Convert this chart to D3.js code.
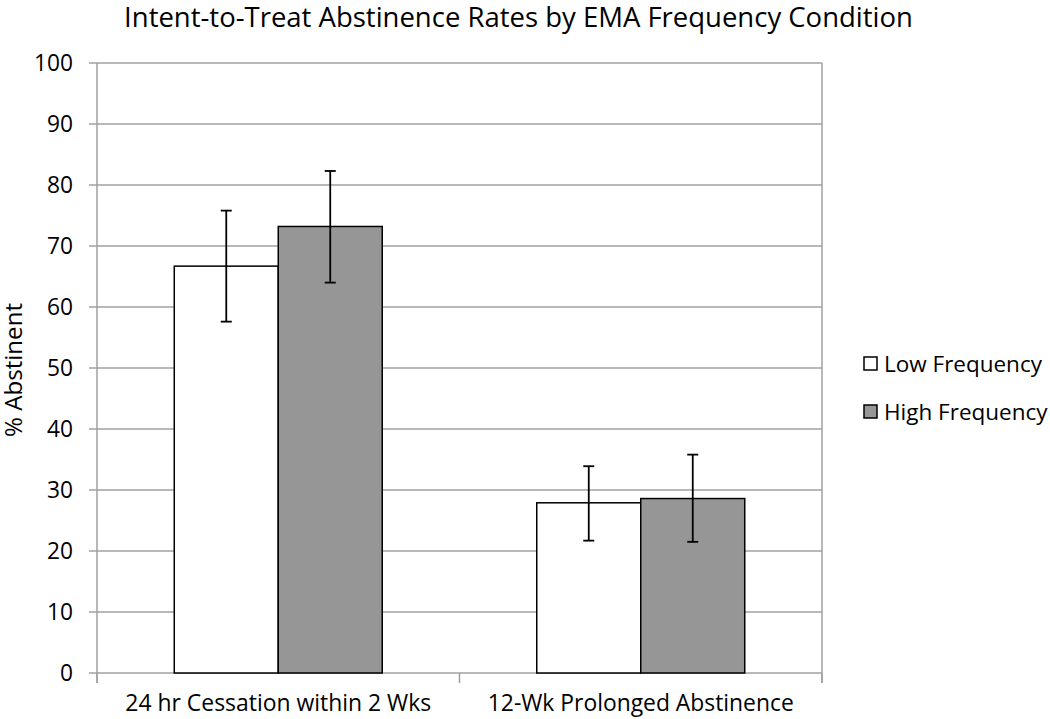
<!DOCTYPE html>
<html>
<head>
<meta charset="utf-8">
<script src="https://cdn.jsdelivr.net/npm/d3@7"></script>
<style>
  html, body { margin: 0; padding: 0; background: #fff; }
  text { font-family: "Open Sans", "Noto Sans", sans-serif; fill: #000; }
</style>
</head>
<body>
<svg id="chart" width="1050" height="719"></svg>
<script>
const title = "Intent-to-Treat Abstinence Rates by EMA Frequency Condition";
const categories = ["24 hr Cessation within 2 Wks", "12-Wk Prolonged Abstinence"];
const seriesNames = ["Low Frequency", "High Frequency"];
const lowValues = [66.7, 27.9];
const highValues = [73.2, 28.6];
const lowErrTop = [75.8, 33.9];
const lowErrBottom = [57.6, 21.7];
const highErrTop = [82.3, 35.8];
const highErrBottom = [64.0, 21.5];
const yTicks = [0, 10, 20, 30, 40, 50, 60, 70, 80, 90, 100];
const yTitle = "% Abstinent";

const colors = ["#ffffff", "#969696"];
const svg = d3.select("#chart");
const margin = { left: 97, right: 822, top: 63, bottom: 673 };

const x0 = d3.scaleBand().domain(categories).range([margin.left, margin.right]).paddingInner(0).paddingOuter(0);
const x1 = d3.scaleBand().domain(seriesNames).range([0, x0.bandwidth()]).paddingInner(0).paddingOuter(0.743);
const y = d3.scaleLinear().domain([0, 100]).range([margin.bottom, margin.top]);

const grid = "#a0a0a0";

// shrink/grow font so a text's natural width matches the reference
function fit(sel, target) {
  sel.each(function () {
    const el = d3.select(this);
    const fs = parseFloat(el.attr("font-size"));
    const w = this.getComputedTextLength();
    if (w > 0) el.attr("font-size", (fs * target / w).toFixed(2));
  });
}

// gridlines
svg.append("g").selectAll("line").data(yTicks).join("line")
  .attr("x1", margin.left - 8).attr("x2", margin.right)
  .attr("y1", d => y(d)).attr("y2", d => y(d))
  .attr("stroke", grid).attr("stroke-width", 1.5);

// right border
svg.append("line").attr("x1", margin.right).attr("x2", margin.right)
  .attr("y1", margin.top).attr("y2", margin.bottom + 10)
  .attr("stroke", grid).attr("stroke-width", 1.5);

// y axis line
svg.append("line").attr("x1", margin.left).attr("x2", margin.left)
  .attr("y1", margin.top).attr("y2", margin.bottom + 10)
  .attr("stroke", grid).attr("stroke-width", 1.5);

// x axis category ticks
const bounds = [margin.left, x0(categories[1]), margin.right];
svg.append("g").selectAll("line").data(bounds).join("line")
  .attr("x1", d => d).attr("x2", d => d)
  .attr("y1", margin.bottom).attr("y2", margin.bottom + 10)
  .attr("stroke", grid).attr("stroke-width", 1.5);

// y tick labels
const yl = svg.append("g").selectAll("text").data(yTicks).join("text")
  .attr("x", 73).attr("y", d => y(d)).attr("dy", "0.36em")
  .attr("text-anchor", "end").attr("font-size", 20).text(d => d);
const ref100 = yl.filter(d => d === 100).node();
const fsY = 20 * 39 / ref100.getComputedTextLength();
yl.attr("font-size", fsY.toFixed(2));

// bars
const data = categories.map((c, i) => [
  { cat: c, s: seriesNames[0], v: lowValues[i], top: lowErrTop[i], bot: lowErrBottom[i], color: colors[0] },
  { cat: c, s: seriesNames[1], v: highValues[i], top: highErrTop[i], bot: highErrBottom[i], color: colors[1] }
]).flat();

svg.append("g").selectAll("rect").data(data).join("rect")
  .attr("x", d => x0(d.cat) + x1(d.s))
  .attr("width", x1.bandwidth())
  .attr("y", d => y(d.v))
  .attr("height", d => y(0) - y(d.v))
  .attr("fill", d => d.color)
  .attr("stroke", "#000").attr("stroke-width", 1.5);

// error bars
const eb = svg.append("g").selectAll("g").data(data).join("g")
  .attr("transform", d => `translate(${x0(d.cat) + x1(d.s) + x1.bandwidth() / 2},0)`);
eb.append("line").attr("x1", 0).attr("x2", 0)
  .attr("y1", d => y(d.top)).attr("y2", d => y(d.bot))
  .attr("stroke", "#000").attr("stroke-width", 1.8);
eb.append("line").attr("x1", -5.5).attr("x2", 5.5)
  .attr("y1", d => y(d.top)).attr("y2", d => y(d.top))
  .attr("stroke", "#000").attr("stroke-width", 1.8);
eb.append("line").attr("x1", -5.5).attr("x2", 5.5)
  .attr("y1", d => y(d.bot)).attr("y2", d => y(d.bot))
  .attr("stroke", "#000").attr("stroke-width", 1.8);

// x labels
const xl = svg.append("g").selectAll("text").data(categories).join("text")
  .attr("x", d => x0(d) + x0.bandwidth() / 2).attr("y", 711)
  .attr("text-anchor", "middle").attr("font-size", 20).text(d => d);
fit(xl, 306);

// title
const tt = svg.append("text").attr("x", 518.5).attr("y", 27).attr("text-anchor", "middle")
  .attr("font-size", 22).text(title);
fit(tt, 789);

// y title
const yt = svg.append("text").attr("transform", "translate(22,370) rotate(-90)")
  .attr("text-anchor", "middle").attr("font-size", 20).text(yTitle);
fit(yt, 134);

// legend
const leg = svg.append("g").selectAll("g").data(seriesNames).join("g")
  .attr("transform", (d, i) => `translate(864,${357 + i * 48})`);
leg.append("rect").attr("width", 13).attr("height", 13)
  .attr("fill", (d, i) => colors[i]).attr("stroke", "#000").attr("stroke-width", 1.5);
const lt = leg.append("text").attr("x", 20).attr("y", 7).attr("dy", "0.36em")
  .attr("font-size", 20).text(d => d);
const lowW = lt.filter(d => d === seriesNames[0]).node().getComputedTextLength();
lt.attr("font-size", (20 * 158 / lowW).toFixed(2));
</script>
</body>
</html>
